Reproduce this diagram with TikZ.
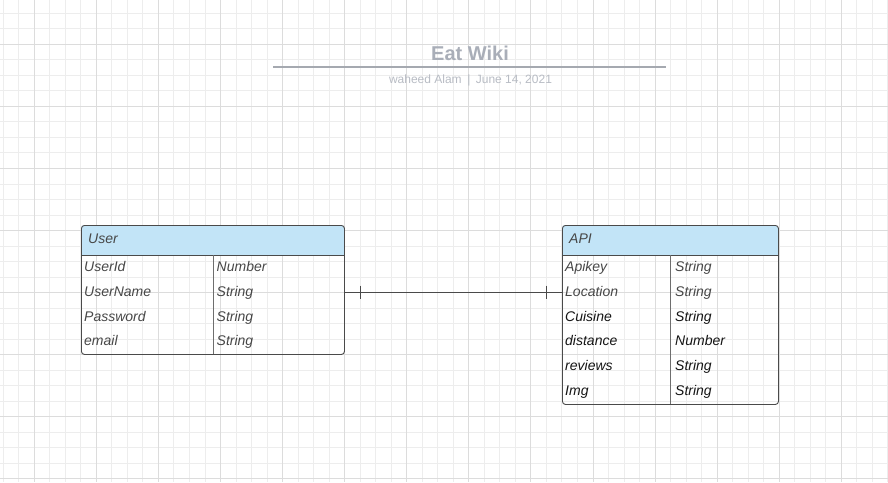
\documentclass[tikz,border=0pt]{standalone}
\usepackage{fontspec}
\setmainfont{Liberation Sans}
\usetikzlibrary{calc}

\definecolor{minorgrid}{HTML}{EDEDED}
\definecolor{majorgrid}{HTML}{DCDCDC}
\definecolor{headblue}{HTML}{C2E4F7}
\definecolor{boxline}{HTML}{4A4A4A}
\definecolor{titlegrey}{HTML}{A9AEB8}
\definecolor{subgrey}{HTML}{B8BCC4}
\definecolor{fieldgrey}{HTML}{474747}
\definecolor{fieldblack}{HTML}{151515}

\tikzset{
  tablebox/.style={draw=boxline, line width=0.9pt, rounded corners=3pt,
    inner sep=0pt, anchor=north west},
  field/.style={anchor=base west, inner sep=0pt, text=fieldgrey,
    font=\fontsize{14}{16}\selectfont\itshape},
  darkfield/.style={field, text=fieldblack},
  link/.style={draw=boxline, line width=0.9pt}
}

\begin{document}
\begin{tikzpicture}[x=1pt,y=-1pt]

  \useasboundingbox[fill=white] (0,0) rectangle (888,482);

%%%%%%%%%%%%%%%%%%%%%%%%%%%%%%%%%%%%%%%%%%
  % Background grid
  \begin{scope}
    \clip (0,0) rectangle (888,482);
    \foreach \i in {0,...,57}
      \draw[minorgrid, line width=1pt] ({3.26+15.52*\i},0) -- ({3.26+15.52*\i},482);
    \foreach \i in {0,...,31}
      \draw[minorgrid, line width=1pt] (0,{13.3+15.52*\i}) -- (888,{13.3+15.52*\i});
    \foreach \i in {0,...,14}
      \draw[majorgrid, line width=1pt] ({34.3+62.08*\i},0) -- ({34.3+62.08*\i},482);
    \foreach \i in {0,...,7}
      \draw[majorgrid, line width=1pt] (0,{44.3+62.08*\i}) -- (888,{44.3+62.08*\i});
  \end{scope}

%%%%%%%%%%%%%%%%%%%%%%%%%%%%%%%%%%%%%%%%%%
  % Title block
  \node[text=titlegrey, font=\fontsize{20}{24}\selectfont\bfseries, anchor=base] (title) at (470,60) {Eat Wiki};
  \draw[subgrey!90!black, line width=1.5pt] (273,67) -- (666,67);
  \node[text=subgrey, font=\fontsize{12}{14}\selectfont, anchor=base] (subtitle) at (470.5,83.5)
    {waheed Alam\hspace{5.5pt}|\hspace{5.5pt}June 14, 2021};

%%%%%%%%%%%%%%%%%%%%%%%%%%%%%%%%%%%%%%%%%%
  % User table
  \begin{scope}
    \clip[rounded corners=3pt] (81,225) rectangle (344,354);
    \fill[headblue] (81,225) rectangle (344,255);
  \end{scope}
  \node[tablebox, minimum width=263pt, minimum height=129pt] (user) at (81,225) {};
  \draw[boxline, line width=0.9pt] (81,255) -- (344,255);
  \draw[boxline!80, line width=0.9pt] (213,255) -- (213,354);

  \node[field] (userhead) at (88,243.5) {User};
  \node[field] (uid)   at (84,271) {UserId};
  \node[field] (uname) at (84,296) {UserName};
  \node[field] (upass) at (84,321) {Password};
  \node[field] (umail) at (84,345) {email};
  \node[field] at (216.5,271) {Number};
  \node[field] at (216.5,296) {String};
  \node[field] at (216.5,321) {String};
  \node[field] at (216.5,345) {String};

%%%%%%%%%%%%%%%%%%%%%%%%%%%%%%%%%%%%%%%%%%
  % API table
  \begin{scope}
    \clip[rounded corners=3pt] (562,225) rectangle (778,404);
    \fill[headblue] (562,225) rectangle (778,255);
  \end{scope}
  \node[tablebox, minimum width=216pt, minimum height=179pt] (api) at (562,225) {};
  \draw[boxline, line width=0.9pt] (562,255) -- (778,255);
  \draw[boxline!80, line width=0.9pt] (670,255) -- (670,404);

  \node[field] (apihead) at (569,243.5) {API};
  \node[field] (akey)  at (565,271) {Apikey};
  \node[field] (aloc)  at (565,296) {Location};
  \node[darkfield] (acuis) at (565,321) {Cuisine};
  \node[darkfield] (adist) at (565,345) {distance};
  \node[darkfield] (arev)  at (565,370) {reviews};
  \node[darkfield] (aimg)  at (565,395) {Img};
  \node[field] at (675,271) {String};
  \node[field] at (675,296) {String};
  \node[darkfield] at (675,321) {String};
  \node[darkfield] at (675,345) {Number};
  \node[darkfield] at (675,370) {String};
  \node[darkfield] at (675,395) {String};

%%%%%%%%%%%%%%%%%%%%%%%%%%%%%%%%%%%%%%%%%%
  % Relation (one to one)
  \coordinate (uend) at (user.east |- 0,292);
  \coordinate (aend) at (api.west |- 0,292);
  \draw[link] (uend) -- (aend);
  \draw[link] ($(uend)+(16,-6.5)$) -- ++(0,13);
  \draw[link] ($(aend)+(-16,-6.5)$) -- ++(0,13);

\end{tikzpicture}
\end{document}
